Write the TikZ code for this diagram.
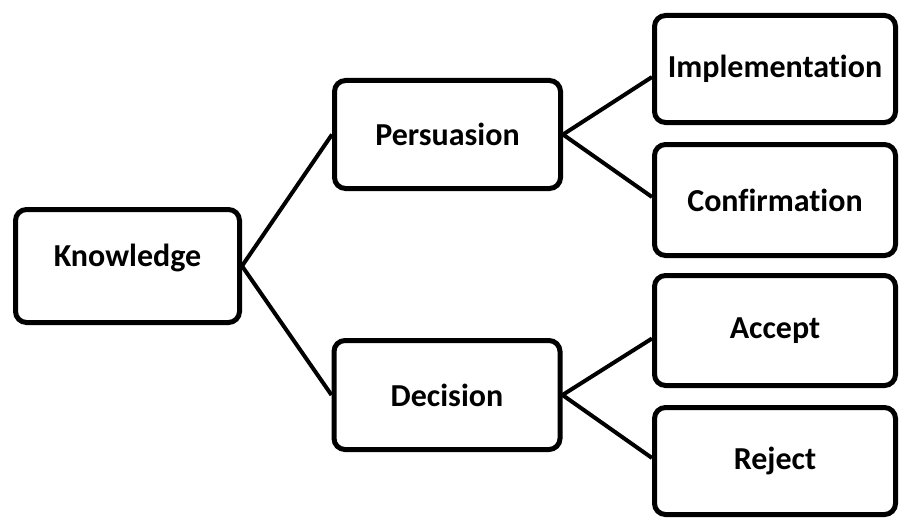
\documentclass[tikz,border=0pt]{standalone}
\usepackage{fontspec}
\setmainfont{Carlito}[Ligatures={NoCommon}]
\begin{document}
\begin{tikzpicture}[x=1pt,y=-1pt,
  stagefont/.style={font=\fontsize{32}{38}\selectfont\bfseries},
  stage/.style={draw=black, line width=5pt, rounded corners=11pt, fill=white,
    stagefont, align=center, inner sep=0pt},
  midbox/.style={stage, minimum width=226pt, minimum height=108pt},
  endbox/.style={stage, minimum width=241pt, minimum height=108pt},
  link/.style={draw=black, line width=4pt}]
\useasboundingbox (0,0) rectangle (900,519);

% root stage
\node[stage, minimum width=224pt, minimum height=113pt,
  label={[stagefont, yshift=8pt]center:Knowledge}]
  (know) at (127.5,266) {};

% middle stages
\node[midbox] (pers) at (447.5,134.5) {Persuasion};
\node[midbox, minimum height=109pt] (deci) at (447,395) {Decision};

% final stages
\node[endbox, minimum height=107pt] (impl) at (775,69) {Implementation};
\node[endbox, minimum height=111pt] (conf) at (775,200) {Confirmation};
\node[endbox, minimum height=110pt] (acc) at (775,330.5) {Accept};
\node[endbox, minimum height=107pt] (rej) at (775,461) {Reject};

% branches
\draw[link] (know.east) -- (pers.west);
\draw[link] (know.east) -- (deci.west);
\draw[link] (pers.east) -- ([yshift=-8pt]impl.west);
\draw[link] (pers.east) -- ([yshift=3pt]conf.west);
\draw[link] (deci.east) -- ([yshift=-8pt]acc.west);
\draw[link] (deci.east) -- ([yshift=3pt]rej.west);
\end{tikzpicture}
\end{document}
